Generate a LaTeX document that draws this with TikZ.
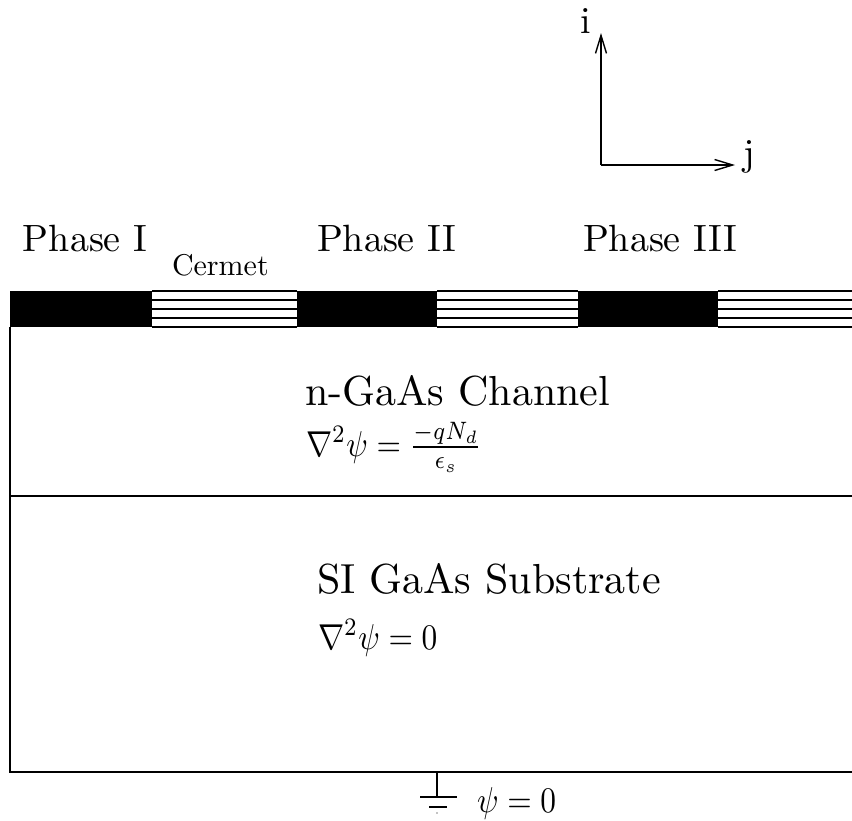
\documentclass[tikz,border=0pt]{standalone}
\usetikzlibrary{arrows.meta}
\begin{document}
\begin{tikzpicture}[x=0.5pt,y=-0.5pt,
  every node/.style={inner sep=0pt,outer sep=0pt,font=\normalsize},
  phase/.style={anchor=base west,scale=1.9},
  small/.style={anchor=base west,scale=1.5},
  big/.style={anchor=base west,scale=2.1},
  eq/.style={anchor=base west,xscale=1.57,yscale=1.8},
  boxline/.style={line width=1pt},
  hatch/.style={line width=0.85pt},
  gline/.style={line width=0.8pt},
  axis/.style={line width=0.7pt,-{Straight Barb[length=9pt,width=5.5pt]}}]
\useasboundingbox (0,0) rectangle (852,820);
% electrodes
\foreach \a/\b in {10/152,297/437,578/718}
  \fill (\a,291) rectangle (\b,327);
\foreach \a/\b in {152/297,437/578,718/852}
  \foreach \y in {291,300,309,318,327}
    \draw[hatch] (\a,\y) -- (\b,\y);
% box
\draw[boxline] (10,327) -- (10,772) -- (852,772);
\draw[boxline] (10,496) -- (852,496);
% axes
\coordinate (o) at (601,165);
\coordinate (ti) at (601,33);
\coordinate (tj) at (735,165);
\draw[axis] (o) -- (ti);
\draw[axis] (o) -- (tj);
\node[phase] (li) at (580,33) {i};
\node[phase] (lj) at (743,165) {j};
% labels
\node[phase] (p1) at (23,251) {Phase I};
\node[small] (cm) at (172,275) {Cermet};
\node[phase] (p2) at (317,251) {Phase II};
\node[phase] (p3) at (583,251) {Phase III};
\node[big] (ch) at (305,405) {n-GaAs Channel};
\node[eq] (che) at (306,456) {$\nabla^2\psi = \frac{-qN_d}{\epsilon_s}$};
\node[big] (sub) at (317,593) {SI GaAs Substrate};
\node[eq] (sube) at (318,649) {$\nabla^2\psi = 0$};
% ground
\coordinate (g) at (437,772);
\coordinate (g1) at (437,797);
\draw[gline] (g) -- (g1);
\draw[gline] (420,797) -- (457,797);
\draw[gline] (429,807) -- (447,807);
\fill (437,813) circle (0.7);
\node[eq] (gnd) at (477,812) {$\psi = 0$};
\end{tikzpicture}
\end{document}
